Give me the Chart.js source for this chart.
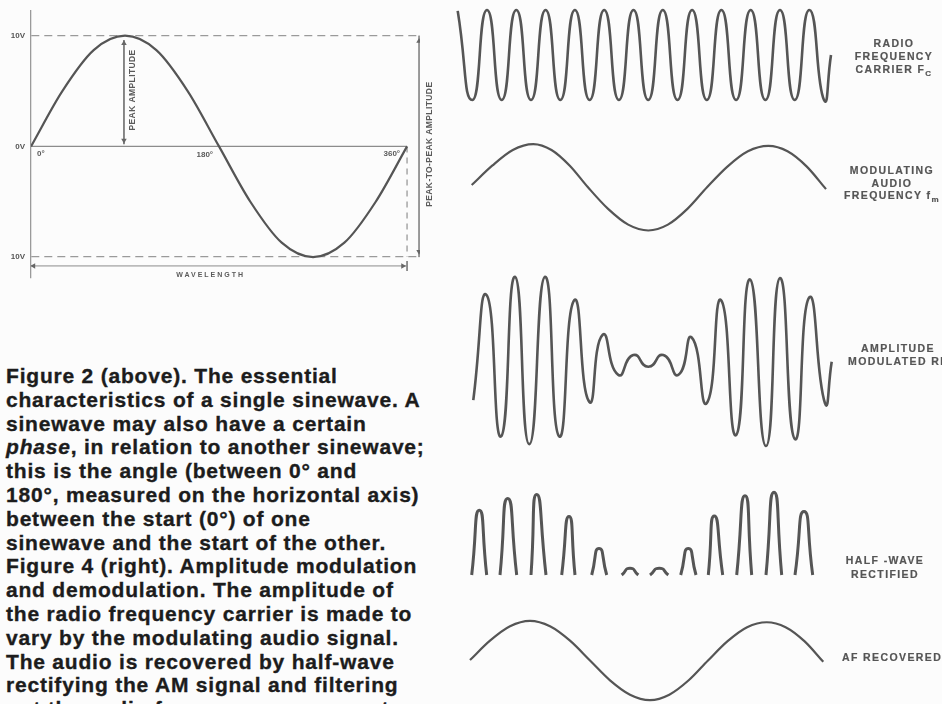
<!DOCTYPE html>
<html><head><meta charset="utf-8">
<script src="https://cdn.jsdelivr.net/npm/chart.js@4.4.1/dist/chart.umd.min.js"></script>
<style>
html,body{margin:0;padding:0;background:#fcfcfc;width:942px;height:704px;overflow:hidden;}
canvas{position:absolute;}
#caption{position:absolute;left:6px;top:364px;font-family:"Liberation Sans",Arial,sans-serif;font-weight:bold;font-size:21px;line-height:23.8px;letter-spacing:0.8px;color:#1c1c1c;white-space:pre;-webkit-text-stroke:0.35px #1c1c1c;}
.lbl{position:absolute;font-family:"Liberation Sans",Arial,sans-serif;font-weight:bold;font-size:10.5px;line-height:13px;letter-spacing:1.4px;color:#555;text-align:center;white-space:nowrap;-webkit-text-stroke:0.2px #555;}
.lbl sub{font-size:8px;vertical-align:-3px;line-height:0;}
</style></head><body>
<canvas id="sine" width="445" height="290" style="left:0;top:0"></canvas>
<canvas id="carrier" width="410" height="115" style="left:440px;top:0"></canvas>
<canvas id="modul" width="410" height="120" style="left:440px;top:125px"></canvas>
<canvas id="am" width="410" height="200" style="left:440px;top:260px"></canvas>
<canvas id="half" width="410" height="115" style="left:440px;top:470px"></canvas>
<canvas id="af" width="410" height="110" style="left:440px;top:600px"></canvas>

<div class="lbl" style="left:846px;top:37px;width:96px">RADIO<br>FREQUENCY<br>CARRIER F<sub>C</sub></div>
<div class="lbl" style="left:842px;top:164px;width:100px;line-height:12.5px">MODULATING<br>AUDIO<br>FREQUENCY f<sub>m</sub></div>
<div class="lbl" style="left:842px;top:342px;width:112px;line-height:12.7px">AMPLITUDE<br>MODULATED RF</div>
<div class="lbl" style="left:840px;top:553px;width:90px;line-height:14px">HALF -WAVE<br>RECTIFIED</div>
<div class="lbl" style="left:842px;top:651px;text-align:left">AF RECOVERED</div>

<div id="caption">Figure 2 (above). The essential
characteristics of a single sinewave. A
sinewave may also have a certain
<i>phase</i>, in relation to another sinewave;
this is the angle (between 0° and
180°, measured on the horizontal axis)
between the start (0°) of one
sinewave and the start of the other.
Figure 4 (right). Amplitude modulation
and demodulation. The amplitude of
the radio frequency carrier is made to
vary by the modulating audio signal.
The audio is recovered by half-wave
rectifying the AM signal and filtering
out the audio frequency component.</div>

<script>
// ---------- Figure 2: single sinewave (degrees, volts) ----------
const sineAngles = [0, 30, 60, 90, 120, 150, 180, 210, 240, 270, 300, 330, 360];
const sineVolts  = [0, 5, 8.7, 10, 8.7, 5, 0, -5, -8.7, -10, -8.7, -5, 0];
const voltTicks = [10, 0, -10];
const voltTickLabels = ['10V', '0V', '10V'];
const degreeMarks = [0, 180, 360];
const degreeLabels = ['0°', '180°', '360°'];
const peakArrowAngle = 89;
const peakToPeakArrowAngle = 371.5;
const wavelengthLevel = -10.8;

// ---------- Figure 4: AM waveforms (time units, relative amplitude) ----------
const carrierT = [0.7, 15.4, 30, 44.7, 59.3, 74, 88.6, 103.3, 117.9, 132.6, 147.2, 161.9, 176.5, 191.2, 205.8, 220.5, 235.1, 249.8, 264.4, 279.1, 293.7, 308.4, 323, 337.7, 352.3, 367, 374];
const carrierV = [0.98, -1, 1, -1, 1, -1, 1, -1, 1, -1, 1, -1, 1, -1, 1, -1, 1, -1, 1, -1, 1, -1, 1, -1, 1, -1, 0];

const modT = [14.7, 35.2, 55.8, 76.3, 94.5, 112.8, 131, 151.1, 171.2, 191.3, 210.9, 230.4, 250, 270.4, 290.9, 311.3, 330.5, 349.8, 369];
const modV = [0.05, 0.48, 0.83, 0.96, 0.83, 0.48, 0, -0.48, -0.83, -0.96, -0.83, -0.48, 0, 0.46, 0.80, 0.92, 0.80, 0.46, -0.04];

const amT = [16.3, 29.7, 44, 58, 72.3, 88, 102.3, 117.3, 132.3, 145.7, 161.3, 176.3, 191.3, 206.3, 221.3, 234.7, 249.7, 264, 279, 293, 309, 323, 338, 352.3, 368, 374.7];
const amV = [-0.89, 1.44, -1.70, 1.85, -1.87, 1.85, -1.70, 1.33, -0.93, 0.56, -0.33, 0.11, -0.15, 0.11, -0.33, 0.50, -0.96, 1.33, -1.67, 1.79, -1.91, 1.82, -1.76, 1.39, -0.96, -0.04];

const halfStartT = [14.7, 43, 74, 104.7, 134.7, 164.7, 193, 223.7, 251.3, 279.7, 309, 338];
const halfPeakT  = [22.3, 50.7, 79.7, 112, 142, 173, 202.3, 231.3, 257.3, 288, 317, 347];
const halfEndT   = [29.7, 59.7, 89, 118, 149.7, 181.3, 211.3, 239, 265.7, 294.7, 324.7, 355.7];
const halfPeakV  = [1.44, 1.70, 1.79, 1.30, 0.59, 0.15, 0.15, 0.59, 1.31, 1.76, 1.84, 1.41];

const afT = [13, 33, 53, 73, 93, 113, 133, 153, 173, 193, 212.3, 231.7, 251, 270.6, 290.1, 309.7, 328.6, 347.4, 366.3];
const afV = [0.01, 0.44, 0.76, 0.88, 0.76, 0.44, 0, -0.44, -0.76, -0.88, -0.76, -0.44, 0, 0.43, 0.74, 0.85, 0.74, 0.43, -0.03];

// ---------- helpers ----------
const zip = (xs, ys) => xs.map((x, i) => ({x, y: ys[i]}));
const FONT = '"Liberation Sans", Arial, sans-serif';
const INK = '#555';

// ---------- left chart ----------
const annot = {
  id: 'annot',
  afterDatasetsDraw(chart) {
    const {ctx, scales: {x, y}} = chart;
    ctx.save();
    ctx.fillStyle = '#5a5a5a';
    ctx.font = 'bold 8px ' + FONT;
    ctx.textBaseline = 'middle';
    const y0 = y.getPixelForValue(0);
    degreeMarks.forEach((d, i) => {
      const px = x.getPixelForValue(d);
      if (i === 0) { ctx.textAlign = 'left'; ctx.fillText(degreeLabels[i], px + 6, y0 + 7); }
      else { ctx.textAlign = 'right'; ctx.fillText(degreeLabels[i], px - (i === 1 ? 6 : 7), y0 + (i === 1 ? 8 : 7)); }
    });
    ctx.textAlign = 'center';
    ctx.font = 'bold 8.5px ' + FONT;
    try { ctx.letterSpacing = '0.4px'; } catch (e) {}
    ctx.save();
    ctx.translate(x.getPixelForValue(peakArrowAngle) + 9, y.getPixelForValue(5.1));
    ctx.rotate(-Math.PI / 2);
    ctx.fillText('PEAK AMPLITUDE', 0, 0);
    ctx.restore();
    ctx.save();
    ctx.translate(x.getPixelForValue(peakToPeakArrowAngle) + 11, y.getPixelForValue(0.2));
    ctx.rotate(-Math.PI / 2);
    ctx.fillText('PEAK-TO-PEAK AMPLITUDE', 0, 0);
    ctx.restore();
    ctx.font = 'bold 7px ' + FONT;
    try { ctx.letterSpacing = '2px'; } catch (e) {}
    ctx.fillText('WAVELENGTH', x.getPixelForValue(172), y.getPixelForValue(wavelengthLevel) + 9);
    ctx.restore();
  }
};

new Chart(document.getElementById('sine'), {
  type: 'line',
  data: {
    datasets: [
      {data: zip(sineAngles, sineVolts), borderColor: INK, borderWidth: 2.2, pointRadius: 0, cubicInterpolationMode: 'monotone', order: 0},
      {data: [{x: sineAngles[0], y: 0}, {x: sineAngles[sineAngles.length - 1], y: 0}], borderColor: '#8c8c8c', borderWidth: 1.4, pointRadius: 0, order: 5},
      {data: [{x: 360, y: 0}, {x: 360, y: voltTicks[2]}], borderColor: '#999', borderWidth: 1.3, borderDash: [6, 5], pointRadius: 0, order: 5},
      {data: [{x: peakArrowAngle, y: 9.6}, {x: peakArrowAngle, y: 0.2}], borderColor: '#777', borderWidth: 1, pointRadius: 0, order: 4},
      {data: [{x: peakToPeakArrowAngle, y: 10}, {x: peakToPeakArrowAngle, y: -10}], borderColor: '#8c8c8c', borderWidth: 1, pointRadius: 0, order: 4},
      {data: [{x: 0, y: wavelengthLevel}, {x: 360, y: wavelengthLevel}], borderColor: '#8c8c8c', borderWidth: 1, pointRadius: 0, order: 4},
      {data: [{x: 360, y: wavelengthLevel + 0.45}, {x: 360, y: wavelengthLevel - 0.45}], borderColor: '#666', borderWidth: 1.4, pointRadius: 0, order: 4},
      {data: [{x: peakArrowAngle, y: 9.3}, {x: peakArrowAngle, y: 0.55}, {x: peakToPeakArrowAngle, y: 9.5}, {x: peakToPeakArrowAngle, y: -9.5}, {x: 2.5, y: wavelengthLevel}, {x: 356, y: wavelengthLevel}],
       showLine: false, pointStyle: 'triangle', pointRadius: 3.2, pointBorderWidth: 0, pointBackgroundColor: '#666',
       pointRotation: [0, 180, 0, 180, 270, 90], order: 3}
    ]
  },
  options: {
    animation: false, responsive: false, devicePixelRatio: 1,
    layout: {padding: {top: 10, bottom: 12, left: 0, right: 25}},
    plugins: {legend: {display: false}, tooltip: {enabled: false}},
    scales: {
      x: {type: 'linear', display: false, min: 0, max: 372.4},
      y: {
        type: 'linear', min: -11.89, max: 12.25,
        afterFit: s => { s.width = 31; },
        afterBuildTicks: s => { s.ticks = voltTicks.map(v => ({value: v})); },
        ticks: {padding: 6, color: '#555', font: {family: FONT, weight: 'bold', size: 8},
                callback: v => voltTickLabels[voltTicks.indexOf(v)]},
        grid: {color: c => (c.tick && c.tick.value === 0) ? 'rgba(0,0,0,0)' : '#9a9a9a', lineWidth: 1.3, drawTicks: false},
        border: {display: true, color: '#9a9a9a', width: 1.3, dash: [8, 5]}
      }
    }
  },
  plugins: [annot]
});

// ---------- right charts ----------
function yRange(canvasTop, height, zeroPx, pxPerUnit) {
  return {min: -(canvasTop + height - zeroPx) / pxPerUnit, max: (zeroPx - canvasTop) / pxPerUnit};
}
function waveChart(id, data, yr, width, curve) {
  const ds = {data, borderColor: INK, borderWidth: width, pointRadius: 0, spanGaps: false, clip: false, fill: false};
  if (curve === 'monotone') ds.cubicInterpolationMode = 'monotone'; else ds.tension = curve;
  new Chart(document.getElementById(id), {
    type: 'line',
    data: {datasets: [ds]},
    options: {
      animation: false, responsive: false, devicePixelRatio: 1,
      layout: {padding: 0},
      plugins: {legend: {display: false}, tooltip: {enabled: false}},
      scales: {x: {type: 'linear', display: false, min: -17, max: 393}, y: {type: 'linear', display: false, min: yr.min, max: yr.max}}
    }
  });
}
const PPU = 45;
waveChart('carrier', zip(carrierT, carrierV), yRange(0, 115, 55, PPU), 2.6, 0.6);
waveChart('modul', zip(modT, modV), yRange(125, 120, 187.3, PPU), 2.2, 'monotone');
waveChart('am', zip(amT, amV), yRange(260, 200, 360, PPU), 2.6, 0.6);
const halfData = [];
halfStartT.forEach((s, i) => {
  halfData.push({x: s, y: 0}, {x: halfPeakT[i], y: halfPeakV[i]}, {x: halfEndT[i], y: 0});
  if (i < halfStartT.length - 1) halfData.push({x: (halfEndT[i] + halfStartT[i + 1]) / 2, y: null});
});
waveChart('half', halfData, yRange(470, 115, 575, PPU), 3, 0.7);
waveChart('af', zip(afT, afV), yRange(600, 110, 660.5, PPU), 2.2, 'monotone');
</script>
</body></html>
